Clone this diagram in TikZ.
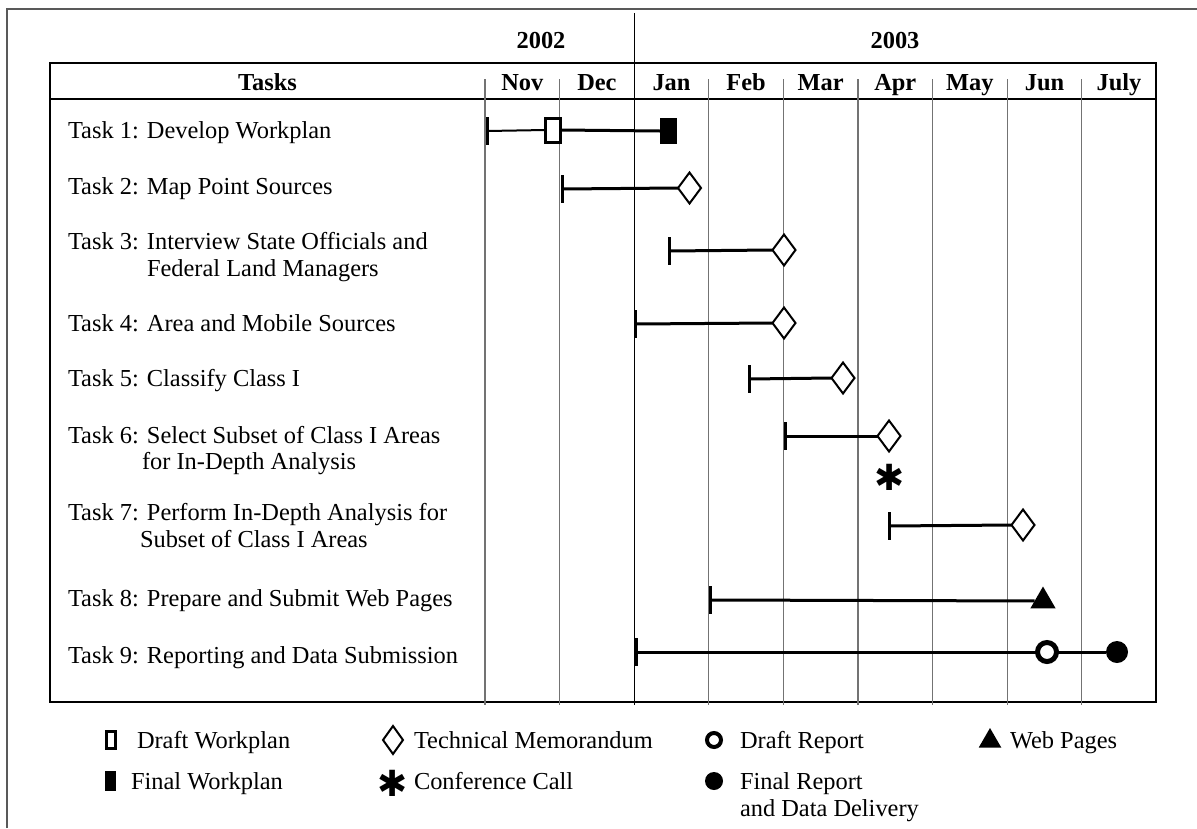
\documentclass[tikz,border=0pt]{standalone}
\usepackage{fontspec}
\setmainfont{Liberation Serif}
\newfontfamily\dvs{DejaVu Sans}
\usetikzlibrary{shapes.geometric}
\begin{document}
\begin{tikzpicture}[x=1pt,y=-1pt,
  every node/.style={inner sep=0pt, outer sep=0pt},
  lbl/.style={anchor=base west, font=\fontsize{24.4}{29}\selectfont},
  hdr/.style={anchor=base, font=\fontsize{24.4}{29}\selectfont\bfseries},
  mline/.style={draw=black!55, line width=1.2pt},
  frame/.style={draw=black!65, line width=1.6pt},
  tickmark/.style={fill=black, minimum width=3pt, minimum height=28pt},
  bar/.style={line width=3pt},
  thinbar/.style={line width=2pt},
  memo/.style={diamond, draw, fill=white, line width=2pt, minimum width=23pt, minimum height=31pt},
  draft/.style={rectangle, draw, fill=white, line width=3pt, minimum width=15pt, minimum height=24pt},
  final/.style={rectangle, fill=black, minimum width=17pt, minimum height=26pt},
  web/.style={regular polygon, regular polygon sides=3, fill=black, minimum size=29pt},
  dreport/.style={circle, draw, fill=white, line width=5pt, minimum size=19pt},
  freport/.style={circle, fill=black, minimum size=22pt},
  conf/.style={font=\dvs\fontsize{36}{36}\selectfont}
]
\useasboundingbox (0,0) rectangle (1197,828);
% frame
\draw[frame] (7,828) -- (7,9) -- (1197,9);
% table
\draw[line width=1.2pt] (50,63) rectangle (1156,702);
\draw[line width=1.2pt] (50,99) -- (1156,99);
\draw[line width=1.2pt] (634.2,13) -- (634.2,705);
\foreach \x in {485,559.6,708.8,783.4,858,932.6,1007.2,1081.8}
  \draw[mline] (\x,79) -- (\x,705);
% years
\node[hdr] (y2002) at (541,48) {2002};
\node[hdr] (y2003) at (895,48) {2003};
% header
\node[hdr] (hT) at (267.5,90) {Tasks};
\node[hdr] (mNov) at (522.3,90) {Nov};
\node[hdr] (mDec) at (596.9,90) {Dec};
\node[hdr] (mJan) at (671.5,90) {Jan};
\node[hdr] (mFeb) at (746.1,90) {Feb};
\node[hdr] (mMar) at (820.7,90) {Mar};
\node[hdr] (mApr) at (895.3,90) {Apr};
\node[hdr] (mMay) at (969.9,90) {May};
\node[hdr] (mJun) at (1044.5,90) {Jun};
\node[hdr] (mJul) at (1119,90) {July};
% task labels
\node[lbl] (l1) at (68,138) {Task 1: Develop Workplan};
\node[lbl] (l2) at (68,194) {Task 2: Map Point Sources};
\node[lbl] (l3a) at (68,249) {Task 3: Interview State Officials and};
\node[lbl] (l3b) at (147,276) {Federal Land Managers};
\node[lbl] (l4) at (68,331) {Task 4: Area and Mobile Sources};
\node[lbl] (l5) at (68,386) {Task 5: Classify Class I};
\node[lbl] (l6a) at (68,443) {Task 6: Select Subset of Class I Areas};
\node[lbl] (l6b) at (142,469) {for In-Depth Analysis};
\node[lbl] (l7a) at (68,520) {Task 7: Perform In-Depth Analysis for};
\node[lbl] (l7b) at (140,547) {Subset of Class I Areas};
\node[lbl] (l8) at (68,606) {Task 8: Prepare and Submit Web Pages};
\node[lbl] (l9) at (68,663) {Task 9: Reporting and Data Submission};
% Task 1
\node[tickmark] (t1) at (487,131) {};
\node[draft] (d1) at (553,130) {};
\node[final] (f1) at (668.5,131) {};
\draw[thinbar] (t1) -- (d1.west);
\draw[bar] (d1.east) -- (f1.west);
% Task 2
\node[tickmark] (t2) at (562,189) {};
\node[memo] (m2) at (689.5,188) {};
\draw[bar] (t2) -- (m2.west);
% Task 3
\node[tickmark] (t3) at (669,251) {};
\node[memo] (m3) at (784,250) {};
\draw[bar] (t3) -- (m3.west);
% Task 4
\node[tickmark] (t4) at (635,324) {};
\node[memo] (m4) at (784,323) {};
\draw[bar] (t4) -- (m4.west);
% Task 5
\node[tickmark] (t5) at (749,379) {};
\node[memo] (m5) at (843,378) {};
\draw[bar] (t5) -- (m5.west);
% Task 6
\node[tickmark] (t6) at (785,436) {};
\node[memo] (m6) at (889,436) {};
\draw[bar] (t6) -- (m6.west);
\node[conf] (c6) at (890,477) {✱};
% Task 7
\node[tickmark] (t7) at (889,526) {};
\node[memo] (m7) at (1023,525) {};
\draw[bar] (t7) -- (m7.west);
% Task 8
\node[tickmark] (t8) at (710,600) {};
\node[web] (w8) at (1043,601) {};
\draw[bar] (t8) -- (w8);
% Task 9
\node[tickmark] (t9) at (636,652) {};
\node[dreport] (r9) at (1047,652) {};
\node[freport] (s9) at (1117,652) {};
\draw[bar] (t9) -- (r9.west);
\draw[bar] (r9.east) -- (s9.west);
% legend
\node[draft, line width=3pt, minimum width=9pt, minimum height=17pt] (gD) at (111,740) {};
\node[lbl] (gDt) at (137,748) {Draft Workplan};
\node[final, minimum width=11pt, minimum height=20pt] (gF) at (110,781) {};
\node[lbl] (gFt) at (131,789) {Final Workplan};
\node[memo, minimum width=20pt, minimum height=28pt] (gM) at (393,740) {};
\node[lbl] (gMt) at (414,748) {Technical Memorandum};
\node[conf] (gC) at (393,783) {✱};
\node[lbl] (gCt) at (414,789) {Conference Call};
\node[dreport, line width=4pt, minimum size=14pt] (gR) at (714,740) {};
\node[lbl] (gRt) at (740,748) {Draft Report};
\node[freport, minimum size=18pt] (gS) at (714,781) {};
\node[lbl] (gSt) at (740,789) {Final Report};
\node[lbl] (gSt2) at (740,816) {and Data Delivery};
\node[web, minimum size=26pt] (gW) at (990,741) {};
\node[lbl] (gWt) at (1010,748) {Web Pages};
\end{tikzpicture}
\end{document}
